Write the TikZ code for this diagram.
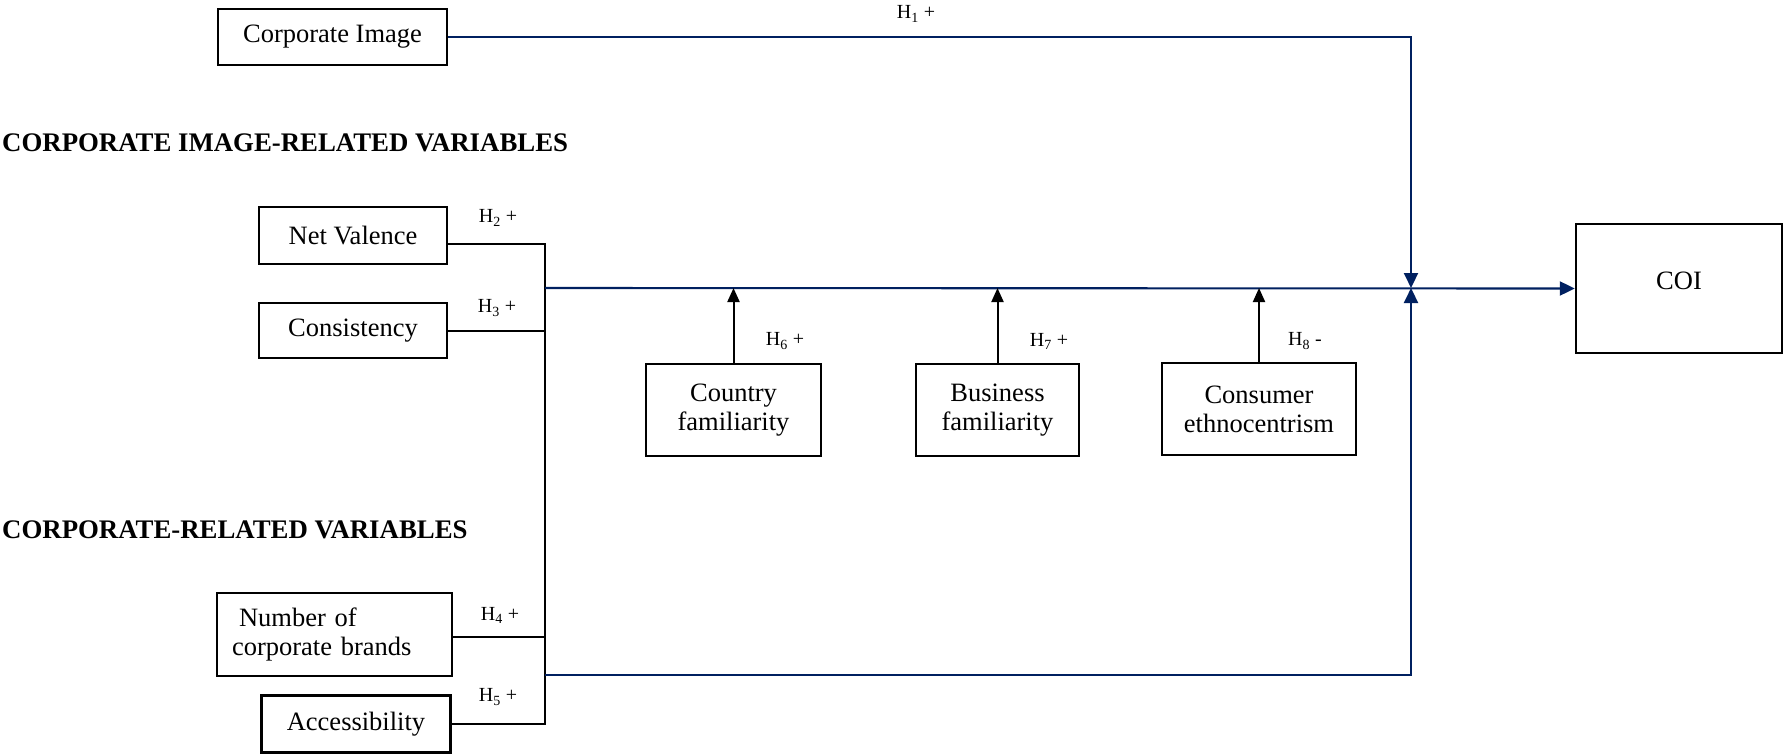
\documentclass[tikz,border=0pt]{standalone}
\usepackage{fontspec}
\setmainfont{Liberation Serif}
\usetikzlibrary{arrows.meta}
\definecolor{navy}{RGB}{0,32,96}
\begin{document}
\begin{tikzpicture}[x=1pt,y=-1pt,
  box/.style={draw,line width=2.4pt,inner sep=0pt,font=\fontsize{26.5}{29}\selectfont,align=center},
  hl/.style={font=\fontsize{20}{22}\selectfont,inner sep=0pt},
  head/.style={font=\fontsize{26.8}{30}\selectfont\bfseries,inner sep=0pt,anchor=west},
  bl/.style={line width=2pt},
  nvl/.style={navy,line width=2.1pt},
  tip/.style={-{Triangle[length=15pt,width=14pt]}},
  btip/.style={-{Triangle[length=14pt,width=12pt]}}
]
\useasboundingbox (0,0) rectangle (1784,753);

% boxes
\node[box,minimum width=229pt,minimum height=56pt] (ci) at (332.5,37) {Corporate Image};
\node[box,minimum width=188pt,minimum height=57pt] (nvb) at (353,235.5) {Net Valence};
\node[box,minimum width=188pt,minimum height=55pt] (cons) at (353,330.5) {Consistency};
\node[box,minimum width=235pt,minimum height=83pt,text width=205pt,inner xsep=15pt,align=left] (nob) at (334.5,634.5) {\hspace{7pt}Number of\\corporate brands};
\node[box,minimum width=189pt,minimum height=57pt] (acc) at (356,724) {Accessibility};
\node[box,minimum width=175pt,minimum height=92pt] (cf) at (733.5,410) {Country\\familiarity};
\node[box,minimum width=163pt,minimum height=92pt] (bf) at (997.5,410) {Business\\familiarity};
\node[box,minimum width=194pt,minimum height=92pt] (ce) at (1259,409) {Consumer\\ethnocentrism};
\node[box,minimum width=206pt,minimum height=129pt,text depth=16pt] (coi) at (1679,288.5) {COI};

% headings
\node[head] (h1) at (2,143) {CORPORATE IMAGE-RELATED VARIABLES};
\node[head] (h2) at (2,530) {CORPORATE-RELATED VARIABLES};

% junction coordinates
\coordinate (j) at (1411,288);
\coordinate (busmid) at (545,288);
\coordinate (busbot) at (545,724);
\coordinate (buslow) at (545,675);

% black bus
\draw[bl] ([yshift=-8.5pt]nvb.east) -| (busbot) -- (acc.east);
\draw[bl] (cons.east) -- (cons.east -| busbot);
\draw[bl] ([yshift=-2.5pt]nob.east) -- ([yshift=-2.5pt]nob.east -| busbot);

% blue connectors
\draw[nvl,tip] (ci.east) -| (j);
\draw[nvl,tip] (busmid) -- (coi.west);
\draw[nvl,tip] (buslow) -| (j);

% moderator arrows
\draw[bl,btip] (cf.north) -- (cf.north |- j);
\draw[bl,btip] (bf.north) -- (bf.north |- j);
\draw[bl,btip] (ce.north) -- (ce.north |- j);

% hypothesis labels
\node[hl] (l1) at (916,14) {H\textsubscript{1} +};
\node[hl] (l2) at (498,218) {H\textsubscript{2} +};
\node[hl] (l3) at (497,308) {H\textsubscript{3} +};
\node[hl] (l4) at (500,615) {H\textsubscript{4} +};
\node[hl] (l5) at (498,697) {H\textsubscript{5} +};
\node[hl] (l6) at (785,341) {H\textsubscript{6} +};
\node[hl] (l7) at (1049,341) {H\textsubscript{7} +};
\node[hl] (l8) at (1305,341) {H\textsubscript{8} -};
\end{tikzpicture}
\end{document}
